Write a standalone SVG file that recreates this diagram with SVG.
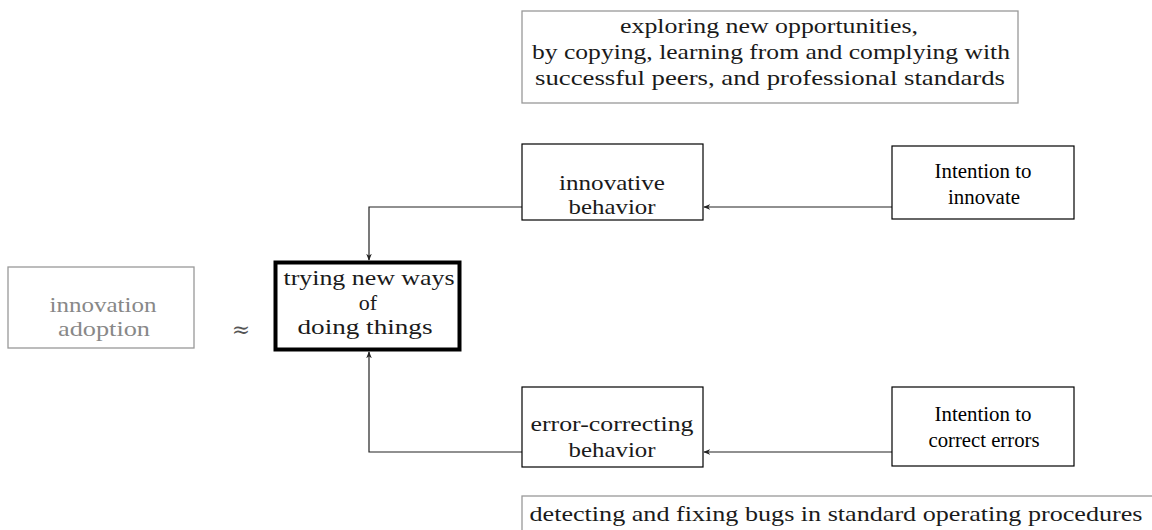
<svg xmlns="http://www.w3.org/2000/svg" width="1152" height="530" viewBox="0 0 1152 530">
<style>
.cm{font-family:"Liberation Serif","DejaVu Serif",serif;font-size:22px;fill:#1a1a1a;text-anchor:middle}
.tm{font-family:"Liberation Serif","Times New Roman",serif;font-size:20px;fill:#000;text-anchor:middle}
.box{fill:#fff;stroke:#000;stroke-width:1.2}
.gbox{fill:#fff;stroke:#999;stroke-width:1.3}
.conn{fill:none;stroke:#222;stroke-width:1.2}
</style>
<defs>
<marker id="arr" viewBox="0 0 10 10" refX="9" refY="5" markerWidth="7" markerHeight="7" markerUnits="userSpaceOnUse" orient="auto">
<path d="M0,1 L10,5 L0,9 L3,5 Z" fill="#222"/>
</marker>
</defs>
<g id="connectors">
<path class="conn" d="M522,207 H369 V260" marker-end="url(#arr)"/>
<path class="conn" d="M522,452 H369 V352" marker-end="url(#arr)"/>
<path class="conn" d="M892,207 H704" marker-end="url(#arr)"/>
<path class="conn" d="M892,452 H704" marker-end="url(#arr)"/>
</g>
<g id="exploring">
<rect class="gbox" x="522" y="11" width="496" height="92"/>
<text class="cm" x="769" y="33" textLength="298" lengthAdjust="spacingAndGlyphs">exploring new opportunities,</text>
<text class="cm" x="771" y="59" textLength="478" lengthAdjust="spacingAndGlyphs">by copying, learning from and complying with</text>
<text class="cm" x="770" y="85" textLength="470" lengthAdjust="spacingAndGlyphs">successful peers, and professional standards</text>
</g>
<g id="innovative">
<rect class="box" x="522" y="144" width="181" height="76"/>
<text class="cm" x="612" y="190" textLength="106" lengthAdjust="spacingAndGlyphs">innovative</text>
<text class="cm" x="612" y="214" textLength="87" lengthAdjust="spacingAndGlyphs">behavior</text>
</g>
<g id="intention-innovate">
<rect class="box" x="892" y="146" width="182" height="73"/>
<text class="tm" x="983" y="178" textLength="97" lengthAdjust="spacingAndGlyphs">Intention to</text>
<text class="tm" x="984" y="204" textLength="72" lengthAdjust="spacingAndGlyphs">innovate</text>
</g>
<g id="adoption">
<rect class="gbox" x="8" y="267" width="186" height="81"/>
<text class="cm" x="103" y="312" style="fill:#888" textLength="107" lengthAdjust="spacingAndGlyphs">innovation</text>
<text class="cm" x="104" y="336" style="fill:#888" textLength="92" lengthAdjust="spacingAndGlyphs">adoption</text>
</g>
<g id="approx">
<text class="cm" x="241" y="337" style="fill:#555;font-family:'DejaVu Serif',serif;font-size:22px">≈</text>
</g>
<g id="trying">
<rect x="275.5" y="262.5" width="184" height="87" fill="#fff" stroke="#000" stroke-width="4"/>
<text class="cm" x="369" y="285" textLength="171" lengthAdjust="spacingAndGlyphs">trying new ways</text>
<text class="cm" x="368" y="310">of</text>
<text class="cm" x="365" y="334" textLength="135" lengthAdjust="spacingAndGlyphs">doing things</text>
</g>
<g id="error-correcting">
<rect class="box" x="522" y="387" width="181" height="80"/>
<text class="cm" x="612" y="431" textLength="163" lengthAdjust="spacingAndGlyphs">error-correcting</text>
<text class="cm" x="612" y="457" textLength="87" lengthAdjust="spacingAndGlyphs">behavior</text>
</g>
<g id="intention-correct">
<rect class="box" x="892" y="387" width="182" height="79"/>
<text class="tm" x="983" y="421" textLength="97" lengthAdjust="spacingAndGlyphs">Intention to</text>
<text class="tm" x="984" y="447" textLength="111" lengthAdjust="spacingAndGlyphs">correct errors</text>
</g>
<g id="detecting">
<rect class="gbox" x="522" y="496" width="660" height="60"/>
<text class="cm" x="836" y="521" textLength="613" lengthAdjust="spacingAndGlyphs">detecting and fixing bugs in standard operating procedures</text>
</g>
</svg>
